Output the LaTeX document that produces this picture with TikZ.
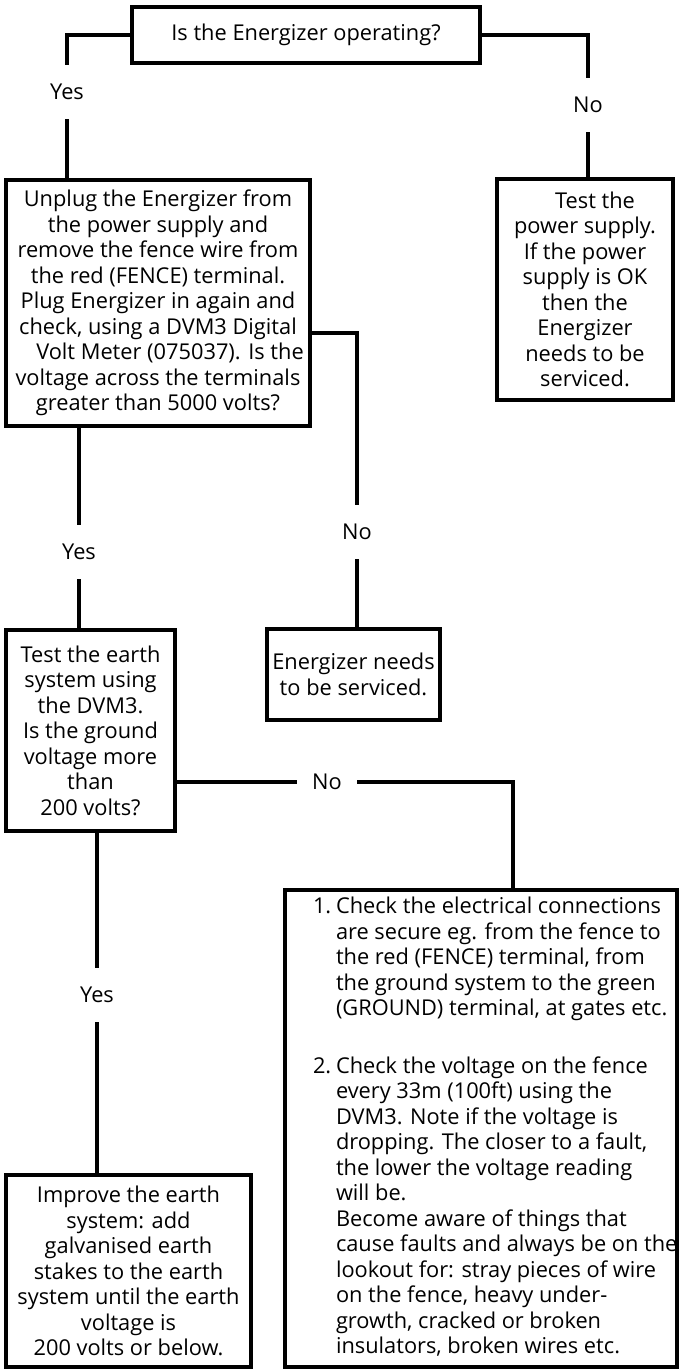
\documentclass[tikz,border=0pt]{standalone}
\usepackage{fontspec}
\setmainfont{Open Sans}
\usepackage{tikz}

\begin{document}
\begin{tikzpicture}[x=1pt,y=-1pt]
    \tikzstyle{box}=[draw, rectangle, line width=4.5pt, inner sep=0pt, align=center, font=\fontsize{21.8}{25.5}\selectfont]
    \tikzstyle{lbl}=[inner sep=0pt, minimum height=54pt, minimum width=60pt, font=\fontsize{21.8}{25.5}\selectfont]
    \tikzstyle{wire}=[line width=4.5pt]
\useasboundingbox (0,0) rectangle (681,1369);

% boxes
\node[box, minimum width=348pt, minimum height=56pt] (running) at (306,35) {Is the Energizer operating?};
\node[box, minimum width=304pt, minimum height=246pt] (unplug) at (158,303) {
    Unplug the Energizer from\\
    the power supply and\\
    remove the fence wire from\\
    the red (FENCE) terminal.\\
    Plug Energizer in again and\\
    check, using a DVM3 Digital\\
    \hspace*{24pt}Volt Meter (075037). Is the\\
    voltage across the terminals\\
    greater than 5000 volts?};
\node[box, minimum width=176pt, minimum height=221pt] (supply) at (585,289.5) {
    \hspace*{20pt}Test the\\
    power supply.\\
    If the power\\
    supply is OK\\
    then the\\
    Energizer\\
    needs to be\\
    serviced.};
\node[box, minimum width=173pt, minimum height=91pt] (service) at (353.5,674.5) {
    Energizer needs\\
    to be serviced.};
\node[box, minimum width=169pt, minimum height=201pt] (earth) at (90.5,730.5) {
    Test the earth\\
    system using\\
    the DVM3.\\
    Is the ground\\
    voltage more\\
    than\\
    200 volts?};
\node[box, minimum width=245pt, minimum height=192pt] (improve) at (128.5,1271) {
    Improve the earth\\
    system: add\\
    galvanised earth\\
    stakes to the earth\\
    system until the earth\\
    voltage is\\
    200 volts or below.};
\node[box, minimum width=392pt, minimum height=477pt] (faults) at (481,1128.5) {%
    \hspace*{26pt}\makebox[362pt][l]{\begin{tabular}{@{}l@{}l@{}}
    \makebox[23pt][l]{1.} & Check the electrical connections\\
     & are secure eg. from the fence to\\
     & the red (FENCE) terminal, from\\
     & the ground system to the green\\
     & (GROUND) terminal, at gates etc.\\[32pt]
    \makebox[23pt][l]{2.} & Check the voltage on the fence\\
     & every 33m (100ft) using the\\
     & DVM3. Note if the voltage is\\
     & dropping. The closer to a fault,\\
     & the lower the voltage reading\\
     & will be.\\
     & Become aware of things that\\
     & cause faults and always be on the\\
     & lookout for: stray pieces of wire\\
     & on the fence, heavy under-\\
     & growth, cracked or broken\\
     & insulators, broken wires etc.
    \end{tabular}}};

% labels
\node[lbl] (yes1) at (67,92) {Yes};
\node[lbl] (no1) at (588,105) {No};
\node[lbl] (no2) at (357,532) {No};
\node[lbl] (yes2) at (79,552) {Yes};
\node[lbl] (no3) at (327,782) {No};
\node[lbl] (yes3) at (97,995) {Yes};

% connectors
\draw[wire] (running.west) -| (yes1.north);
\draw[wire] (yes1.south) -- (yes1.south |- unplug.north);
\draw[wire] (running.east) -| (no1.north);
\draw[wire] (no1.south) -- (no1.south |- supply.north);
\draw[wire] ([yshift=-30pt]unplug.east) -| (no2.north);
\draw[wire] (no2.south) -- (no2.south |- service.north);
\draw[wire] (yes2.north |- unplug.south) -- (yes2.north);
\draw[wire] (yes2.south) -- (yes2.south |- earth.north);
\draw[wire] (earth.east |- no3.west) -- (no3.west);
\draw[wire] (no3.east) -| ([xshift=32pt]faults.north);
\draw[wire] (yes3.north |- earth.south) -- (yes3.north);
\draw[wire] (yes3.south) -- (yes3.south |- improve.north);
\end{tikzpicture}
\end{document}
